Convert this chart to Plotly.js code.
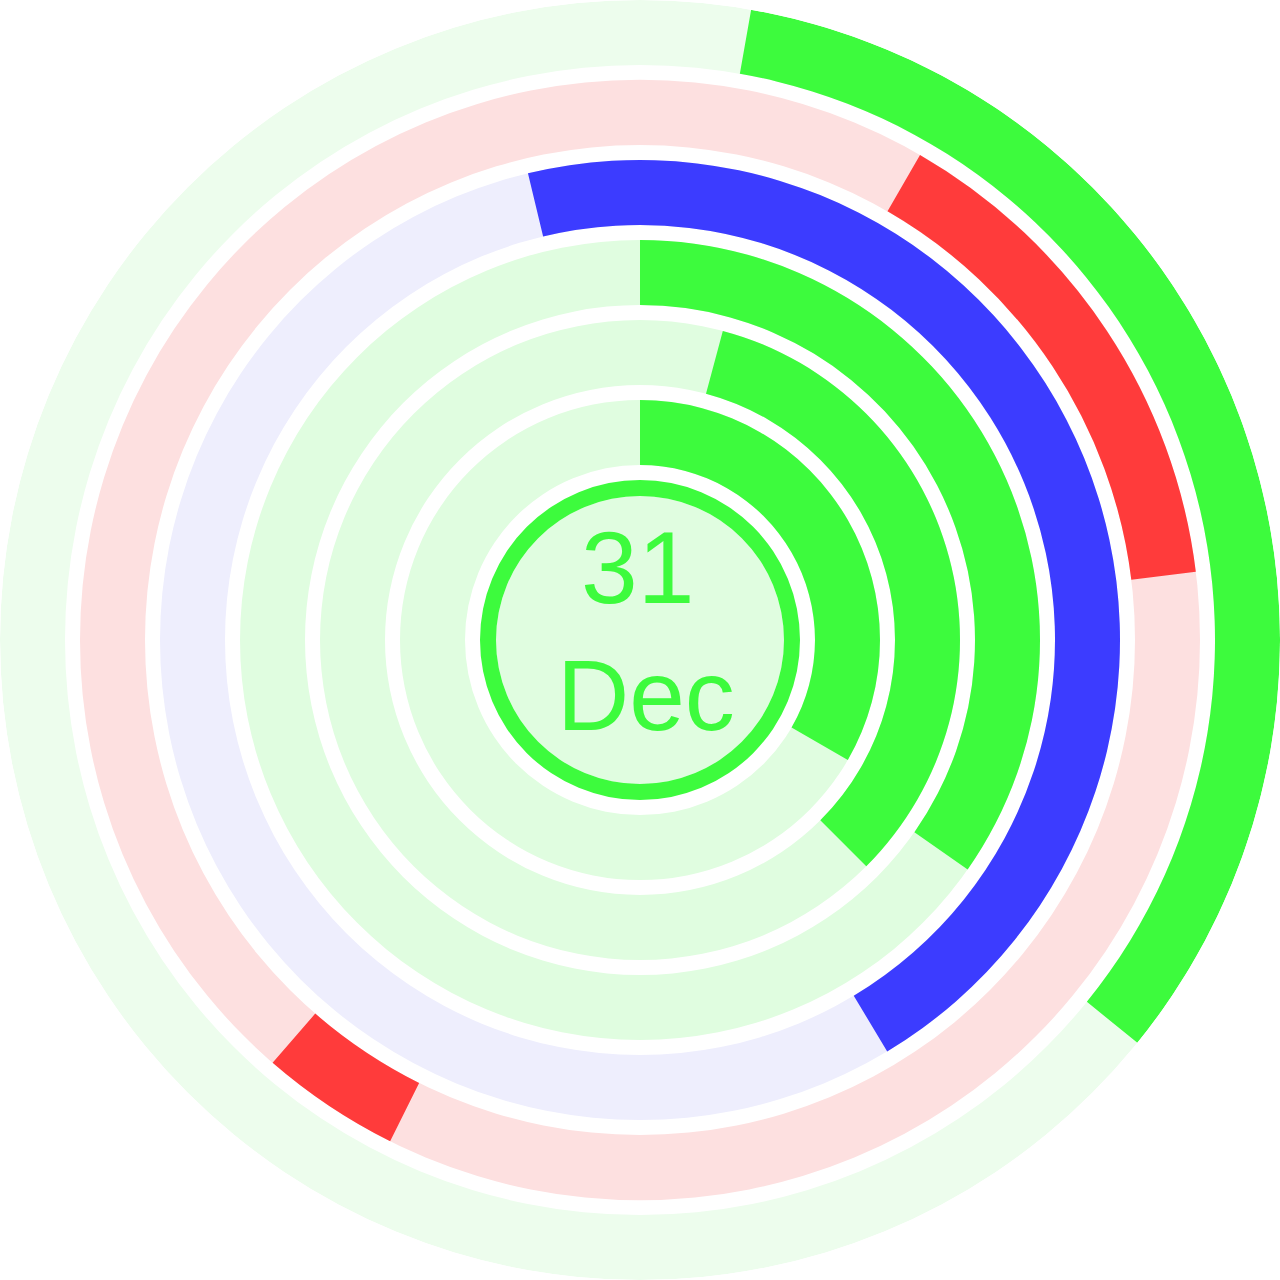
<!DOCTYPE html>
<html>
<head>
<meta charset="utf-8">
<script src="https://cdn.plot.ly/plotly-3.0.1.min.js"></script>
<style>html,body{margin:0;padding:0;background:#fff;}#chart{width:1280px;height:1280px;}</style>
</head>
<body>
<div id="chart"></div>
<script>
// Rings from inner to outer
const ringNames = ['Ring 1', 'Ring 2', 'Ring 3', 'Ring 4', 'Ring 5', 'Ring 6'];
// Arc segments (degrees, clockwise from 12 o'clock)
const segRing  = [0, 1, 2, 3, 4, 4, 5];
const segStart = [0, 15, 0, -13.5, 30, 206.5, 10];
const segEnd   = [120, 135, 125, 149, 83, 221, 129];
const ringColors = ['#3dfb3d', '#3dfb3d', '#3dfb3d', '#3c3cff', '#ff3b3b', '#3dfb3d'];
const ringBgColors = ['#e0fde0', '#e0fde0', '#e0fde0', '#eeeefd', '#fde0e0', '#edfded'];
const centerLabel = ['31', 'Dec'];

const R0 = 175, STEP = 80, BAND = 65;
const traces = [];

// center disc
traces.push({type:'barpolar', theta:[180], width:[360], base:[0], r:[144],
  marker:{color:'#e0fde0', line:{width:0}}, hoverinfo:'skip', showlegend:false});
traces.push({type:'barpolar', theta:[180], width:[360], base:[144], r:[16],
  marker:{color:'#3dfb3d', line:{width:0}}, hoverinfo:'skip', showlegend:false});

ringNames.forEach((name, i) => {
  traces.push({type:'barpolar', name:name+' bg', theta:[180], width:[360],
    base:[R0 + i*STEP], r:[BAND],
    marker:{color:ringBgColors[i], line:{width:0}}, hoverinfo:'skip', showlegend:false});
});

segRing.forEach((ri, k) => {
  traces.push({type:'barpolar', name:ringNames[ri],
    theta:[(segStart[k] + segEnd[k]) / 2], width:[segEnd[k] - segStart[k]],
    base:[R0 + ri*STEP], r:[BAND],
    marker:{color:ringColors[ri], line:{width:0}}, showlegend:false});
});

const layout = {
  width:1280, height:1280,
  margin:{l:0, r:0, t:0, b:0, pad:0},
  paper_bgcolor:'#ffffff',
  showlegend:false,
  polar:{
    domain:{x:[0,1], y:[0,1]},
    bgcolor:'#ffffff',
    bargap:0,
    radialaxis:{range:[0,640], visible:false, showgrid:false},
    angularaxis:{visible:false, showgrid:false, rotation:90, direction:'clockwise'}
  },
  annotations:[
    {text:centerLabel[0], x:0.498, y:1 - 568/1280, xref:'paper', yref:'paper',
     showarrow:false, font:{family:'Liberation Sans, Arial', size:102, color:'#3dfb3d'}},
    {text:centerLabel[1], x:0.505, y:1 - 695/1280, xref:'paper', yref:'paper',
     showarrow:false, font:{family:'Liberation Sans, Arial', size:100, color:'#3dfb3d'}}
  ]
};

Plotly.newPlot('chart', traces, layout, {displayModeBar:false, staticPlot:true});
</script>
</body>
</html>
